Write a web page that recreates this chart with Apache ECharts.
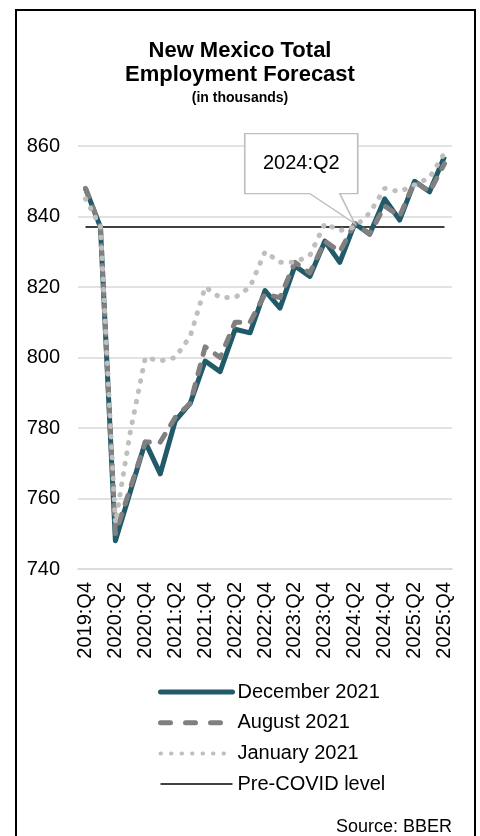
<!DOCTYPE html>
<html>
<head>
<meta charset="utf-8">
<script src="https://cdn.jsdelivr.net/npm/echarts@6/dist/echarts.min.js"></script>
<style>
  html, body { margin: 0; padding: 0; background: #fff; }
  #frame { position: absolute; left: 15px; top: 9px; width: 457px; height: 900px; border: 2px solid #000; border-bottom: none; }
  #chart { position: absolute; left: 0; top: 0; width: 480px; height: 836px; }
</style>
</head>
<body>
<div id="frame"></div>
<div id="chart"></div>
<script>
// quarters shown on the x axis (every other one is labelled)
const quarters = [
  '2019:Q4',
  '2020:Q1', '2020:Q2', '2020:Q3', '2020:Q4',
  '2021:Q1', '2021:Q2', '2021:Q3', '2021:Q4',
  '2022:Q1', '2022:Q2', '2022:Q3', '2022:Q4',
  '2023:Q1', '2023:Q2', '2023:Q3', '2023:Q4',
  '2024:Q1', '2024:Q2', '2024:Q3', '2024:Q4',
  '2025:Q1', '2025:Q2', '2025:Q3', '2025:Q4'
];

// forecast vintages, thousands of jobs
const dec2021 = [848, 837, 748, 762, 776, 767, 782, 787, 799, 796, 808, 807, 819, 814, 826, 823, 833, 827, 838, 835, 845, 839, 850, 847, 857];
const aug2021 = [848, 837, 750, 763, 776, 776, 783, 787, 803, 800, 810, 810, 818, 817, 827, 824, 833, 830, 838, 835, 843, 840, 850, 847, 855];
const jan2021 = [845, 837, 753, 779, 800, 799, 800, 806, 820, 817, 817, 820, 830, 827, 827, 829, 838, 836, 837, 841, 848, 847, 849, 851, 858];
const preCovid = [837, 837, 837, 837, 837, 837, 837, 837, 837, 837, 837, 837, 837, 837, 837, 837, 837, 837, 837, 837, 837, 837, 837, 837, 837];

const yTicks = [740, 760, 780, 800, 820, 840, 860];
const calloutIndex = 18; // 2024:Q2

const FONT = '"Liberation Sans", Arial, sans-serif';
const TEAL = '#215a69';
const GRAY = '#808080';
const LIGHT = '#bfbfbf';

// callout box with a pointer whose tip sits on the data point
const calloutPath = 'path://M-110,-90 L3,-90 L3,-30 L-15,-30 L0,0 L-45,-30 L-110,-30 Z';

const chart = echarts.init(document.getElementById('chart'));

chart.setOption({
  backgroundColor: 'transparent',
  animation: false,
  textStyle: { fontFamily: FONT },
  title: [
    {
      text: 'New Mexico Total\nEmployment Forecast',
      subtext: '(in thousands)',
      left: 'center',
      top: 34,
      itemGap: 3,
      textStyle: { fontFamily: FONT, fontSize: 22, fontWeight: 'bold', color: '#000', lineHeight: 24 },
      subtextStyle: { fontFamily: FONT, fontSize: 14, fontWeight: 'bold', color: '#000', lineHeight: 16 }
    },
    {
      text: 'Source: BBER',
      right: 23,
      top: 813,
      textStyle: { fontFamily: FONT, fontSize: 18, fontWeight: 'normal', color: '#000' }
    }
  ],
  grid: { left: 78, right: 28, top: 146, bottom: 267, containLabel: false },
  legend: {
    orient: 'vertical',
    left: 153,
    top: 677,
    itemWidth: 72,
    itemHeight: 14,
    itemGap: 10.7,
    itemStyle: { opacity: 0 },
    textStyle: { fontFamily: FONT, fontSize: 20, color: '#000' },
    data: [
      { name: 'December 2021', lineStyle: { width: 5, color: TEAL, cap: 'round' } },
      { name: 'August 2021', lineStyle: { width: 5, color: GRAY, type: [10, 15], cap: 'round' } },
      { name: 'January 2021', lineStyle: { width: 4, color: LIGHT, type: [0.5, 10], cap: 'round' } },
      { name: 'Pre-COVID level', lineStyle: { width: 1.5, color: '#000' } }
    ]
  },
  xAxis: {
    type: 'category',
    data: quarters,
    boundaryGap: true,
    axisLine: { show: true, lineStyle: { color: '#d9d9d9', width: 1.5 } },
    axisTick: { show: false },
    axisLabel: { interval: 1, rotate: 90, margin: 13, fontFamily: FONT, fontSize: 20, color: '#000' }
  },
  yAxis: {
    type: 'value',
    min: yTicks[0],
    max: yTicks[yTicks.length - 1],
    interval: 20,
    axisLine: { show: false },
    axisTick: { show: false },
    axisLabel: { margin: 18, fontFamily: FONT, fontSize: 20, color: '#000' },
    splitLine: { lineStyle: { color: '#d9d9d9', width: 1.5 } }
  },
  series: [
    {
      name: 'Pre-COVID level',
      type: 'line',
      data: preCovid,
      symbol: 'none',
      lineStyle: { color: '#000', width: 1.5 },
      itemStyle: { color: '#000' },
      z: 2
    },
    {
      name: 'December 2021',
      type: 'line',
      data: dec2021,
      symbol: 'none',
      lineStyle: { color: TEAL, width: 5, join: 'round' },
      itemStyle: { color: TEAL },
      z: 3
    },
    {
      name: 'August 2021',
      type: 'line',
      data: aug2021,
      symbol: 'none',
      lineStyle: { color: GRAY, width: 5, type: [9, 11], cap: 'round', join: 'round' },
      itemStyle: { color: GRAY },
      z: 4
    },
    {
      name: 'January 2021',
      type: 'line',
      data: jan2021,
      symbol: 'none',
      lineStyle: { color: LIGHT, width: 5, type: [0.5, 10], cap: 'round' },
      itemStyle: { color: LIGHT },
      z: 5,
      markPoint: {
        silent: true,
        data: [{
          coord: [quarters[calloutIndex], dec2021[calloutIndex]],
          symbol: calloutPath,
          symbolSize: [113, 90],
          symbolOffset: [-53.5, -45],
          itemStyle: { color: '#fff', borderColor: LIGHT, borderWidth: 1.5 },
          label: {
            show: true,
            position: 'inside',
            offset: [0, -15],
            formatter: quarters[calloutIndex],
            fontFamily: FONT,
            fontSize: 20,
            color: '#000'
          }
        }]
      }
    }
  ]
});
</script>
</body>
</html>
